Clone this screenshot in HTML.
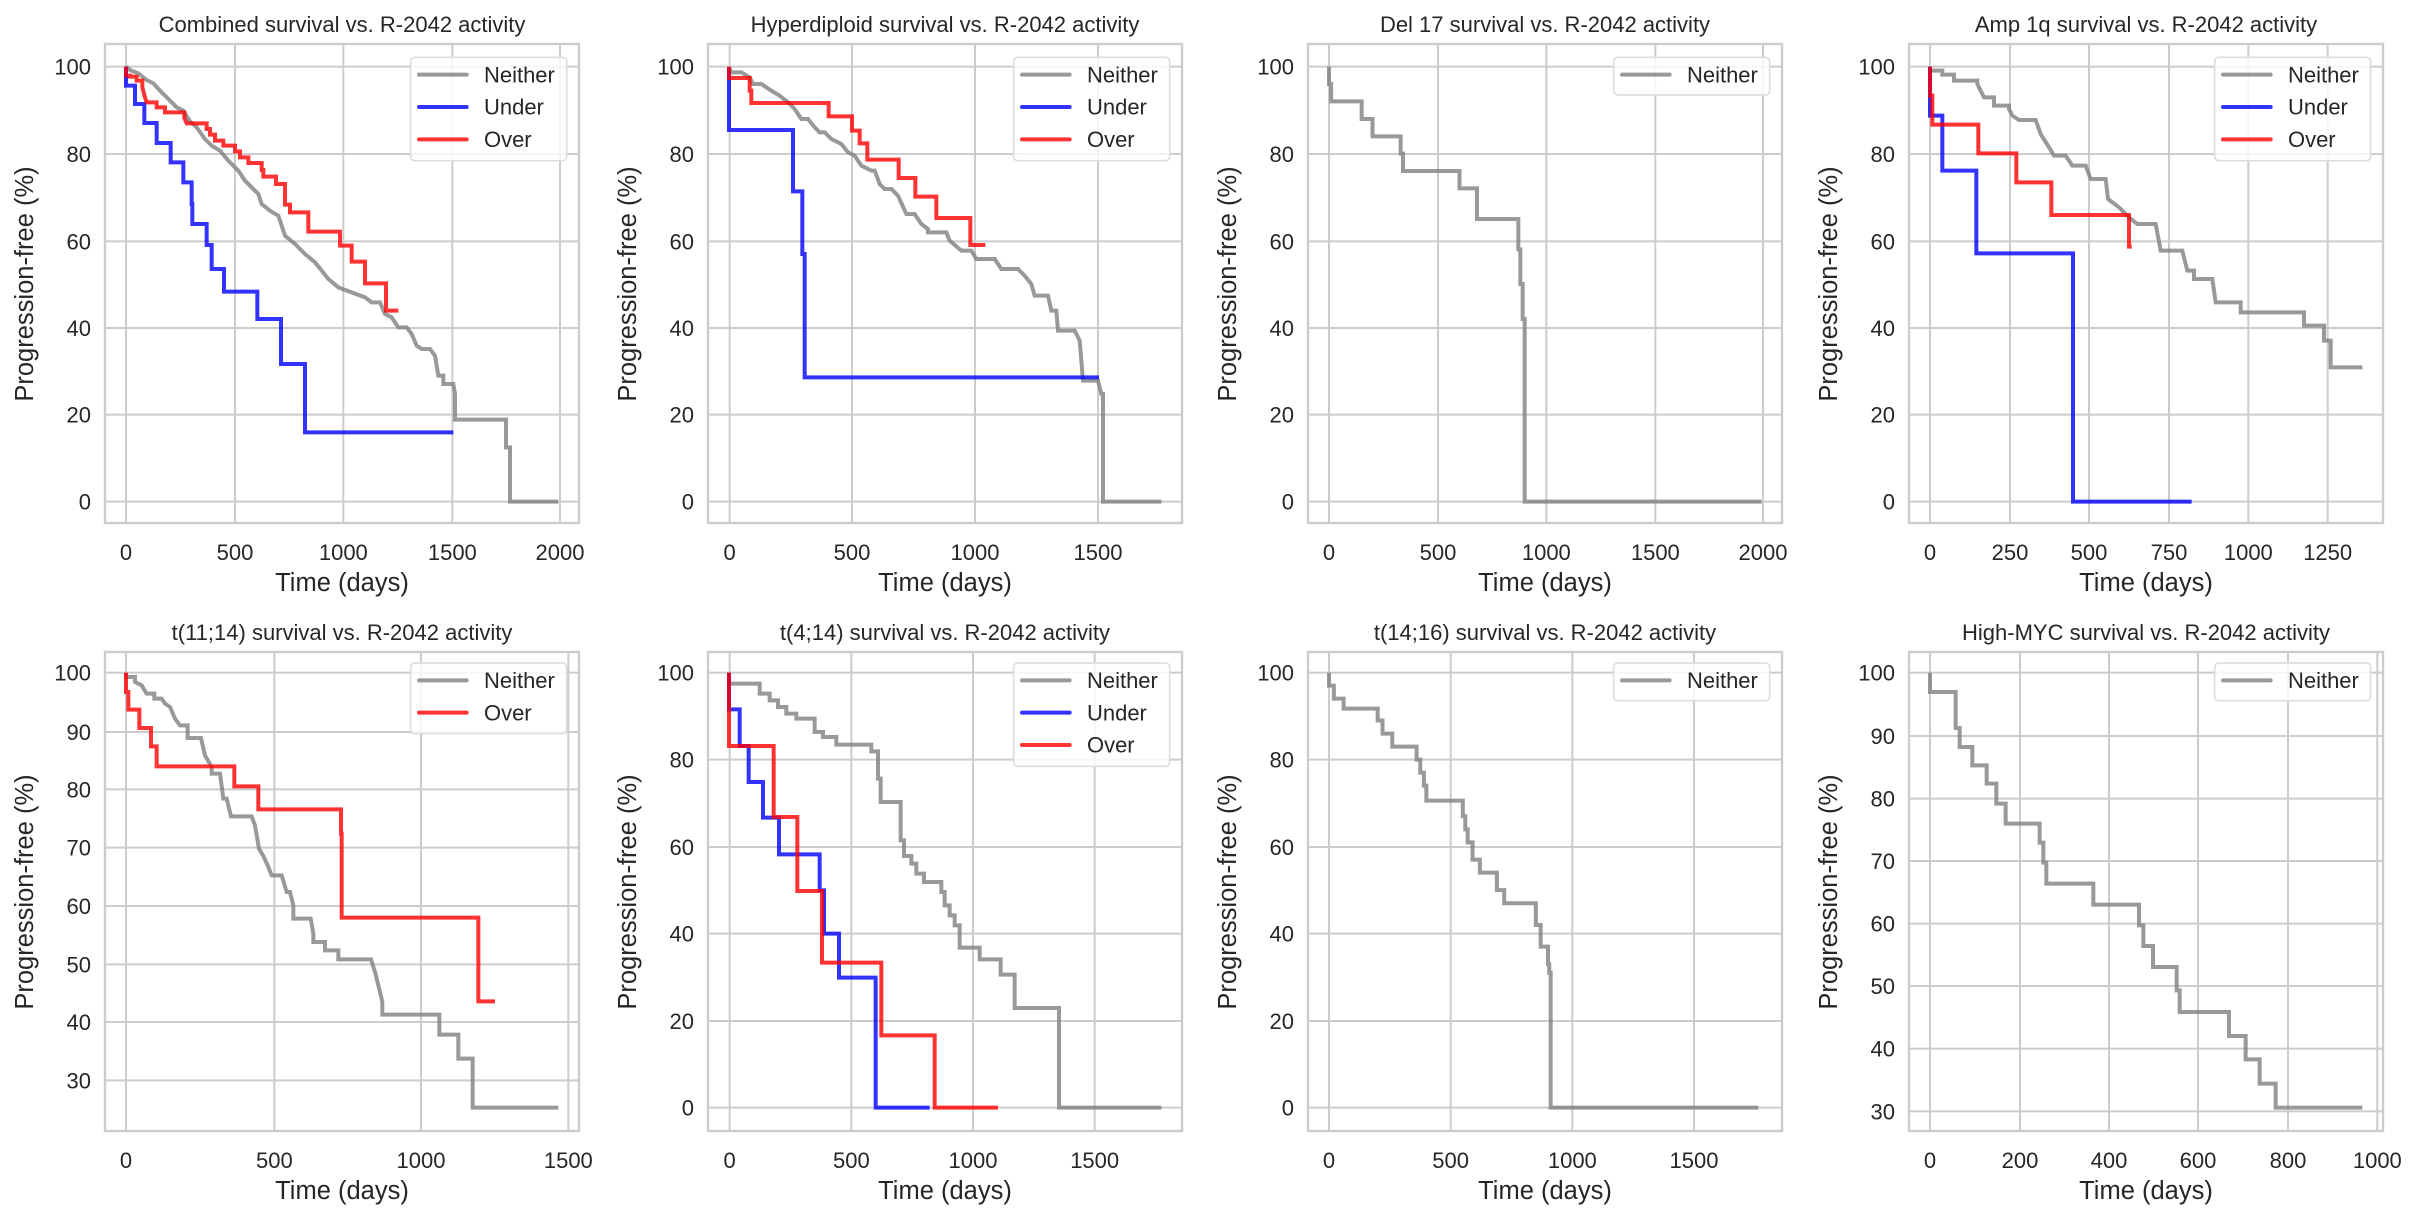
<!DOCTYPE html>
<html><head><meta charset="utf-8">
<style>
html,body{margin:0;padding:0;background:#fff;}
svg{display:block;font-family:"Liberation Sans",Arial,sans-serif;}
</style></head>
<body>
<svg id="s" width="2418" height="1218" xmlns="http://www.w3.org/2000/svg"></svg>
<script>
const P=[
{x0:105,y0:44,title:"Combined survival vs. R-2042 activity",
 xg:[63,390,715,1042,1365],xl:["0","500","1000","1500","2000"],
 yg:[68,330,592,852,1112,1373],yl:["100","80","60","40","20","0"],
 leg:["N","U","O"],
 g:"M63,68 L75,78 L100,88 L125,108 L145,118 L165,140 L190,165 L215,190 L235,200 L255,232 L275,250 L300,285 L320,305 L345,320 L370,350 L400,380 L420,410 L440,430 L460,450 L470,480 L495,500 L520,515 L540,575 L570,600 L600,630 L630,655 L650,680 L670,705 L700,730 L740,745 L780,760 L800,775 H825 L840,810 L860,820 L880,850 H905 L920,870 L935,905 L950,915 H975 L990,935 L1000,995 H1015 V1020 H1045 L1050,1050 V1127 H1203 V1210 H1215 V1373 H1360",
 b:"M63,68 V125 H90 V180 H118 V237 H155 V297 H197 V355 H235 V415 H260 V480 H262 V540 H305 V603 H320 V675 H357 V743 H457 V825 H528 V960 H600 V1165 H1045",
 r:"M63,68 V95 H75 V98 H95 V110 H112 V130 L120,160 L125,175 H155 V190 H180 V205 H238 V222 L245,238 H305 V255 H315 V272 H330 V290 H355 V305 H390 V322 H405 V340 H430 V357 H470 V378 H475 V398 H513 V420 H540 V482 H555 V505 H610 V563 H705 V605 H740 V653 H780 V718 H843 V800 H880"},
{x0:708,y0:44,title:"Hyperdiploid survival vs. R-2042 activity",
 xg:[65,432,801,1170],xl:["0","500","1000","1500"],
 yg:[68,330,592,852,1112,1373],yl:["100","80","60","40","20","0"],
 leg:["N","U","O"],
 g:"M63,70 L70,85 H100 L125,100 L135,120 H160 L190,140 L215,155 L240,175 L260,195 L280,225 H300 L320,250 L335,265 H350 L370,285 L400,300 L420,325 L440,335 L460,365 L490,380 H500 L515,420 L530,435 H550 L570,455 L595,510 H620 L640,540 L660,555 V565 H715 L725,590 L760,620 H790 L805,645 H860 L880,675 H930 L950,695 L970,720 L980,755 H1020 L1030,800 H1045 L1050,860 H1100 L1115,890 L1125,1010 H1170 L1180,1050 H1185 V1373 H1360",
 b:"M63,70 V258 H255 V442 H283 V630 H290 V1000 H1173",
 r:"M63,68 V102 H125 V140 H130 V177 H362 V217 H432 V260 H455 V298 H478 V347 H572 V402 H622 V458 H685 V522 H787 V603 H832"},
{x0:1308,y0:44,title:"Del 17 survival vs. R-2042 activity",
 xg:[63,390,715,1042,1365],xl:["0","500","1000","1500","2000"],
 yg:[68,330,592,852,1112,1373],yl:["100","80","60","40","20","0"],
 leg:["N"],
 g:"M63,68 V120 H69.5 V172 H161 V225 H193.5 V277 H278 V329 H285 V381 H454.5 V433 H507 V525 H631 V616 H637 V720 H644 V825 H650 V1373 H1361"},
{x0:1909,y0:44,title:"Amp 1q survival vs. R-2042 activity",
 xg:[63,303,540,780,1018,1256],xl:["0","250","500","750","1000","1250"],
 yg:[68,330,592,852,1112,1373],yl:["100","80","60","40","20","0"],
 leg:["N","U","O"],
 g:"M63,70 V80 H100 V92 H135 V110 H205 V120 L225,160 H255 V185 H300 V195 L310,215 L330,228 H380 L395,270 L420,310 L435,335 H470 L490,365 H530 L545,405 H590 L597,465 L630,490 L660,520 L685,540 H740 L755,620 H820 L835,680 H855 V705 H910 L920,775 H995 V805 H1185 V845 H1245 V890 H1265 V970 H1360",
 b:"M63,68 V215 H100 V380 H202 V628 H492 V1373 H848",
 r:"M63,68 V155 H70 V242 H208 V328 H322 V415 H427 V513 H660 V608 H668"},
{x0:105,y0:652,title:"t(11;14) survival vs. R-2042 activity",
 xg:[63,508,948,1390],xl:["0","500","1000","1500"],
 yg:[62,240,412,587,762,937,1110,1285],yl:["100","90","80","70","60","50","40","30"],
 leg:["N","O"],
 g:"M63,62 V75 H90 V90 L110,100 L125,125 H148 V140 H170 L180,155 L195,165 L210,200 L225,220 H248 V258 H288 L300,310 L320,345 V365 H345 L355,440 H365 L378,493 H440 L450,520 L462,590 L475,612 L488,640 L500,670 H530 L545,720 H555 L565,760 V800 H617 L625,845 V870 H660 V895 H700 V922 H798 L810,960 L825,1020 L832,1050 V1088 H1003 V1148 H1060 V1220 H1103 V1367 H1360",
 r:"M63,62 V120 H70 V173 H103 V228 H138 V283 H155 V343 H388 V403 H460 V472 H708 V545 H710 V797 H1120 V1048 H1170"},
{x0:708,y0:652,title:"t(4;14) survival vs. R-2042 activity",
 xg:[65,430,795,1160],xl:["0","500","1000","1500"],
 yg:[62,323,585,845,1107,1367],yl:["100","80","60","40","20","0"],
 leg:["N","U","O"],
 g:"M63,62 V95 H155 V125 H185 V145 H210 V165 H235 V185 H265 V200 H320 V240 H345 V255 H385 V278 H490 V298 H510 V380 H518 V450 H578 V565 H588 V612 H610 V635 H625 V665 H648 V690 H700 V720 H710 V760 H725 V790 H740 V820 H755 V887 H815 V922 H878 V968 H920 V1068 H1053 V1367 H1360",
 b:"M63,62 V172 H95 V282 H122 V390 H165 V497 H213 V607 H335 V715 H348 V845 H393 V977 H503 V1367 H665",
 r:"M63,62 V282 H197 V495 H268 V717 H342 V932 H520 V1150 H680 V1367 H870"},
{x0:1308,y0:652,title:"t(14;16) survival vs. R-2042 activity",
 xg:[63,428,793,1158],xl:["0","500","1000","1500"],
 yg:[62,323,585,845,1107,1367],yl:["100","80","60","40","20","0"],
 leg:["N"],
 g:"M63,62 V101 H77.6 V140 H106.8 V170 H209 V205.5 H223.6 V244.7 H252.8 V284 H325.8 V323 H336.8 V362 H347.7 V401 H355 V446 H464.5 V492.6 H471.8 V532 H479 V571 H493.7 V623 H515.6 V662 H566.7 V714.5 H588.6 V753.6 H683.5 V819 H698 V884 H720 V936 H723.7 V962.5 H728 V1367 H1351"},
{x0:1909,y0:652,title:"High-MYC survival vs. R-2042 activity",
 xg:[63,333,600,867,1137,1405],xl:["0","200","400","600","800","1000"],
 yg:[62,252,440,627,815,1002,1190,1378],yl:["100","90","80","70","60","50","40","30"],
 leg:["N"],
 g:"M63,62 V120 H140 V228 H152 V285 H190 V340 H233 V395 H262 V455 H290 V515 H392 V572 H403 V632 H412 V695 H553 V758 H690 V820 H703 V882 H732 V945 H803 V1015 H812 V1080 H960 V1152 H1010 V1222 H1052 V1295 H1100 V1367 H1360"}
];
const LEG={N:["Neither","#808080"],U:["Under","#0000ff"],O:["Over","#ff0000"]};
let h="";
const W=1422,H=1437;
for(const p of P){
  const row2=p.y0>100;
  h+=`<g transform="translate(${p.x0},${p.y0}) scale(0.3333333)">`;
  for(const x of p.xg) h+=`<line x1="${x}" y1="0" x2="${x}" y2="${H}" stroke="#cccccc" stroke-width="6"/>`;
  for(const y of p.yg) h+=`<line x1="0" y1="${y}" x2="${W}" y2="${y}" stroke="#cccccc" stroke-width="6"/>`;
  h+=`<rect x="0" y="0" width="${W}" height="${H}" fill="none" stroke="#cccccc" stroke-width="7"/>`;
  for(const k of ["g","b","r"]){ if(!p[k]) continue;
    const c={g:"#808080",b:"#0000ff",r:"#ff0000"}[k];
    h+=`<path d="${p[k]}" fill="none" stroke="${c}" stroke-opacity="0.8" stroke-width="12" stroke-linejoin="miter"/>`;}
  const top=row2?33:40, step=97;
  const bh=p.leg.length==1?113:(p.leg.length==2?212:310);
  h+=`<rect x="917" y="${top}" width="468" height="${bh}" rx="12" fill="#ffffff" fill-opacity="0.8" stroke="#dddddd" stroke-width="5"/>`;
  p.leg.forEach((k,i)=>{const cy=top+52+i*step;
    h+=`<line x1="942" y1="${cy}" x2="1085" y2="${cy}" stroke="${LEG[k][1]}" stroke-opacity="0.8" stroke-width="12" stroke-linecap="round"/>`;
    h+=`<text x="1137" y="${cy+23}" font-size="66" fill="#262626">${LEG[k][0]}</text>`;});
  h+=`</g>`;
  p.yg.forEach((y,i)=>{h+=`<text x="${p.x0-14}" y="${p.y0+y/3+8}" font-size="22" text-anchor="end" fill="#262626">${p.yl[i]}</text>`;});
  p.xg.forEach((x,i)=>{h+=`<text x="${p.x0+x/3}" y="${p.y0+479+37}" font-size="22" text-anchor="middle" fill="#262626">${p.xl[i]}</text>`;});
  h+=`<text x="${p.x0+237}" y="${p.y0-12}" font-size="22" text-anchor="middle" fill="#262626">${p.title}</text>`;
  h+=`<text x="${p.x0+237}" y="${p.y0+479+68}" font-size="25.5" text-anchor="middle" fill="#262626">Time (days)</text>`;
  h+=`<text transform="translate(${p.x0-72},${p.y0+240}) rotate(-90)" font-size="25.5" text-anchor="middle" fill="#262626">Progression-free (%)</text>`;
}
document.getElementById("s").innerHTML=h;
</script>
</body></html>
